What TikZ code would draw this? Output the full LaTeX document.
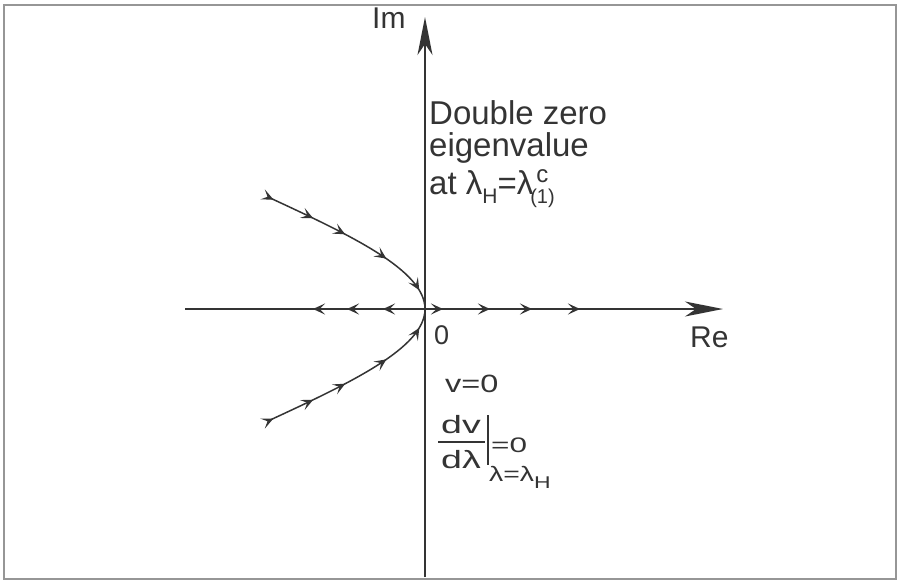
\documentclass[tikz,border=0pt]{standalone}
\usepackage{graphicx}
\usepackage{fontspec}
\setmainfont{Liberation Sans}
\usetikzlibrary{arrows.meta,decorations.markings}
\definecolor{ink}{RGB}{52,52,52}
\definecolor{framec}{RGB}{150,150,150}
\newcommand{\fsz}[1]{\fontsize{#1}{#1}\selectfont}
\begin{document}
\begin{tikzpicture}[x=1pt,y=-1pt,
  axis/.style={draw=ink,line width=1.8pt},
  traj/.style={draw=ink,line width=1.5pt},
  bigtip/.tip={Stealth[length=38pt,width=15pt,inset=11pt]},
  smalltip/.tip={Stealth[length=12pt,width=11pt,inset=5.5pt]},
  lbl/.style={text=ink,inner sep=0pt,anchor=base west},
  marks/.style={postaction={decorate},decoration={markings,#1}},
]
\useasboundingbox (0,0) rectangle (899,582);
\fill[white] (0,0) rectangle (899,582);
\draw[framec,line width=1.6pt] (4,5) rectangle (896,579);
% axes
\coordinate (O) at (425,309);
\coordinate (L) at (185,309);
\coordinate (R) at (723,309);
\coordinate (B) at (425,577);
\coordinate (T) at (425,17);
\draw[axis,-bigtip] (B) -- (T);
\draw[axis,marks={mark=at position 42pt with {\arrow{smalltip}},
  mark=at position 78pt with {\arrow{smalltip}},
  mark=at position 112pt with {\arrow{smalltip}}}] (O) -- (L);
\draw[axis,-bigtip,marks={mark=at position 18pt with {\arrow{smalltip}},
  mark=at position 65pt with {\arrow{smalltip}},
  mark=at position 107pt with {\arrow{smalltip}},
  mark=at position 155pt with {\arrow{smalltip}}}] (O) -- (R);
% trajectories
\coordinate (U) at (268,197);
\coordinate (D) at (268,421);
\draw[traj,marks={mark=at position 0.03 with {\arrow{smalltip}},
  mark=at position 0.25 with {\arrow{smalltip}},
  mark=at position 0.43 with {\arrow{smalltip}},
  mark=at position 0.67 with {\arrow{smalltip}},
  mark=at position 0.90 with {\arrow{smalltip}}}]
  (U) .. controls (350,235) and (425,270) .. (O);
\draw[traj,marks={mark=at position 0.03 with {\arrow{smalltip}},
  mark=at position 0.25 with {\arrow{smalltip}},
  mark=at position 0.43 with {\arrow{smalltip}},
  mark=at position 0.67 with {\arrow{smalltip}},
  mark=at position 0.90 with {\arrow{smalltip}}}]
  (D) .. controls (350,383) and (425,348) .. (O);
% labels
\node[lbl,font=\fsz{30}] (im) at (372,28) {Im};
\node[lbl,font=\fsz{30}] (re) at (690,347) {Re};
\node[lbl,font=\fsz{27}] (zero) at (434,344) {0};
\node[lbl,font=\fsz{33}] (l1) at (429,124) {Double zero};
\node[lbl,font=\fsz{33}] (l2) at (429,156) {eigenvalue};
\node[lbl,font=\fsz{33}] (l3) at (429,194) {at λ\raisebox{-9pt}{\fsz{21}H}=λ\rlap{\raisebox{12pt}{\fsz{24}\hspace{3pt}c}}\raisebox{-9pt}{\fsz{20}\hspace{-3pt}(1)}};
% condition
\node[lbl,font=\fsz{25}] (v0) at (445,392) {\scalebox{1.3}[1]{v=0}};
\node[lbl,font=\fsz{25}] (num) at (441,433) {\scalebox{1.5}[1]{dv}};
\node[lbl,font=\fsz{25}] (den) at (441,468) {\scalebox{1.5}[1]{dλ}};
\coordinate (fb1) at (438,442);
\coordinate (fb2) at (485,442);
\draw[ink,line width=1.2pt] (fb1) -- (fb2);
\coordinate (vb1) at (488,415);
\coordinate (vb2) at (488,465);
\draw[ink,line width=1.2pt] (vb1) -- (vb2);
\node[lbl,font=\fsz{21}] (eq0) at (491,452) {\scalebox{1.5}[1]{=0}};
\node[lbl,font=\fsz{21}] (at) at (489,481) {\scalebox{1.35}[1]{λ=λ\raisebox{-7pt}{\fsz{17}H}}};
\end{tikzpicture}
\end{document}
